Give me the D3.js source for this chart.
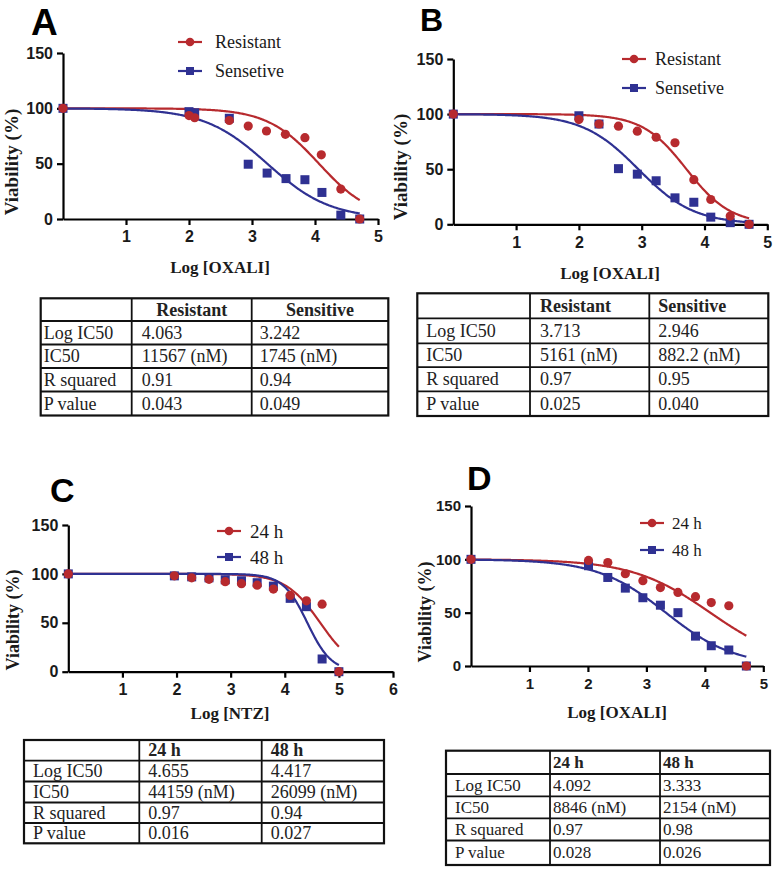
<!DOCTYPE html>
<html>
<head>
<meta charset="utf-8">
<script src="https://cdn.jsdelivr.net/npm/d3@7"></script>
<style>
  html, body { margin: 0; padding: 0; background: #fff; }
  svg { display: block; }
</style>
</head>
<body>
<svg id="fig" width="782" height="879"></svg>
<script>
// ---------------- DATA ----------------
// Panel A (Log [OXALI]) Resistant vs Sensetive
const xA_res = [0, 2.0, 2.09, 2.64, 2.94, 3.23, 3.53, 3.84, 4.10, 4.41, 4.71];
const yA_res = [100, 93.5, 91.5, 89, 84, 79.5, 76.5, 73.5, 58, 27, 0];
const xA_sen = [0, 2.0, 2.09, 2.64, 2.94, 3.24, 3.54, 3.84, 4.11, 4.41, 4.71];
const yA_sen = [100, 97, 96, 91, 49.5, 41.5, 36.5, 35.5, 24, 3.5, 0];

// Panel B (Log [OXALI]) Resistant vs Sensetive
const xB = [0, 2.0, 2.32, 2.63, 2.93, 3.23, 3.53, 3.83, 4.10, 4.41, 4.71];
const yB_res = [100, 95, 91, 89, 84.5, 79, 74, 40.5, 22.5, 7.5, 0];
const yB_sen = [100, 98.5, 91, 50.5, 45.5, 39.5, 24, 20, 6.5, 1.5, 0];

// Panel C (Log [NTZ]) 24 h vs 48 h
const xC = [0, 1.96, 2.28, 2.60, 2.90, 3.20, 3.49, 3.79, 4.10, 4.40, 4.69, 5.0];
const yC_24 = [100, 98, 96, 94.5, 92, 90, 88.5, 84.5, 78, 72.5, 69, 0];
const yC_48 = [100, 98, 97, 96, 94, 93, 91, 87.5, 75, 66.5, 13, 0];

// Panel D (Log [OXALI]) 24 h vs 48 h
const xD = [0, 2.01, 2.34, 2.64, 2.94, 3.24, 3.54, 3.84, 4.11, 4.41, 4.71];
const yD_24 = [100, 99, 97, 86.5, 80, 73.5, 69, 65, 59.5, 56.5, 0];
const yD_48 = [100, 94, 83, 73, 64, 57, 50, 28, 19, 15, 0];

// Fitted curve parameters (logIC50 from tables, Hill slopes)
const logIC50_A = [4.063, 3.242]; const hill_A = [1.06, 0.87];
const logIC50_B = [3.713, 2.946]; const hill_B = [1.24, 0.98];
const logIC50_C = [4.655, 4.417]; const hill_C = [1.35, 1.95];
const logIC50_D = [4.092, 3.333]; const hill_D = [0.65, 0.74];

// Axis ticks
const yTicks = [0, 50, 100, 150];
const xTicks5 = [1, 2, 3, 4, 5];
const xTicks6 = [1, 2, 3, 4, 5, 6];

// Legend labels
const seriesAB = ["Resistant", "Sensetive"];
const seriesCD = ["24 h", "48 h"];

// Table contents
const tableRowLabels = ["Log IC50", "IC50", "R squared", "P value"];
const headerAB = ["", "Resistant", "Sensitive"];
const headerCD = ["", "24 h", "48 h"];
const tableA = [["4.063", "3.242"], ["11567 (nM)", "1745 (nM)"], ["0.91", "0.94"], ["0.043", "0.049"]];
const tableB = [["3.713", "2.946"], ["5161 (nM)", "882.2 (nM)"], ["0.97", "0.95"], ["0.025", "0.040"]];
const tableC = [["4.655", "4.417"], ["44159 (nM)", "26099 (nM)"], ["0.97", "0.94"], ["0.016", "0.027"]];
const tableD = [["4.092", "3.333"], ["8846 (nM)", "2154 (nM)"], ["0.97", "0.98"], ["0.028", "0.026"]];

// ---------------- STYLE ----------------
const RED = "#b72a2e";
const BLUE = "#2f3192";
const SANS = "'Liberation Sans', Arial, sans-serif";
const SERIF = "'Liberation Serif', 'Times New Roman', serif";

const svg = d3.select("#fig");
svg.append("rect").attr("width", 782).attr("height", 879).attr("fill", "#fff");

function panel(cfg) {
  const g = svg.append("g");
  const x = d3.scaleLinear().domain([0, cfg.xMax]).range([cfg.x0, cfg.x1]);
  const y = d3.scaleLinear().domain([0, 150]).range([cfg.y0, cfg.y1]);

  // axes
  const xAxis = d3.axisBottom(x).tickValues(cfg.xTicks).tickSize(6).tickSizeOuter(0).tickPadding(6).tickFormat(d3.format("d"));
  const yAxis = d3.axisLeft(y).tickValues(yTicks).tickSize(6).tickSizeOuter(0).tickPadding(4).tickFormat(d3.format("d"));
  const gx = g.append("g").attr("transform", `translate(0,${cfg.y0})`).call(xAxis);
  const gy = g.append("g").attr("transform", `translate(${cfg.x0},0)`).call(yAxis);
  [gx, gy].forEach(a => {
    a.selectAll("path, line").attr("stroke", "#000").attr("stroke-width", 2.2);
    a.selectAll("text").attr("fill", "#1a1a1a").style("font-family", SANS)
      .style("font-weight", "bold").style("font-size", cfg.tickFont + "px");
  });
  gx.selectAll("text").attr("dy", "0.71em");

  // axis titles
  g.append("text").attr("x", cfg.xLabelX).attr("y", cfg.xLabelY).attr("text-anchor", "middle")
    .style("font-family", SERIF).style("font-weight", "bold").style("font-size", "17px")
    .attr("fill", "#1a1a1a").text(cfg.xLabel);
  g.append("text").attr("transform", `translate(${cfg.yLabelX},${cfg.yLabelY}) rotate(-90)`)
    .attr("text-anchor", "middle").attr("dominant-baseline", "central")
    .style("font-family", SERIF).style("font-weight", "bold").style("font-size", cfg.yLabelFont + "px")
    .attr("fill", "#1a1a1a").text("Viability (%)");

  // fitted curves
  const line = d3.line().x(d => x(d[0])).y(d => y(d[1])).curve(d3.curveLinear);
  const colors = [RED, BLUE];
  cfg.fit.forEach((f, i) => {
    const pts = d3.range(0, 301).map(k => {
      const xv = f.xEnd * k / 300;
      return [xv, 100 / (1 + Math.pow(10, (xv - f.logIC50) * f.hill))];
    });
    g.append("path").datum(pts).attr("d", line).attr("fill", "none")
      .attr("stroke", colors[i]).attr("stroke-width", 2.2);
  });

  // markers: squares (series 2) first, then circles (series 1)
  const sq = cfg.series[1];
  g.selectAll(null).data(sq.x.map((v, i) => [v, sq.y[i]])).enter().append("rect")
    .attr("x", d => x(d[0]) - 4.5).attr("y", d => y(d[1]) - 4.5)
    .attr("width", 9).attr("height", 9).attr("fill", BLUE);
  const ci = cfg.series[0];
  g.selectAll(null).data(ci.x.map((v, i) => [v, ci.y[i]])).enter().append("circle")
    .attr("cx", d => x(d[0])).attr("cy", d => y(d[1])).attr("r", 4.6).attr("fill", RED);

  // legend
  cfg.legendNames.forEach((name, i) => {
    const ly = cfg.legY[i];
    g.append("line").attr("x1", cfg.legX).attr("x2", cfg.legX + 24).attr("y1", ly).attr("y2", ly)
      .attr("stroke", colors[i]).attr("stroke-width", 2.2);
    if (i === 0) {
      g.append("circle").attr("cx", cfg.legX + 12).attr("cy", ly).attr("r", 4.3).attr("fill", RED);
    } else {
      g.append("rect").attr("x", cfg.legX + 8).attr("y", ly - 4).attr("width", 8).attr("height", 8).attr("fill", BLUE);
    }
    g.append("text").attr("x", cfg.legTextX).attr("y", ly).attr("dominant-baseline", "central")
      .style("font-family", SERIF).style("font-size", cfg.legFont + "px").attr("fill", "#1a1a1a").text(name);
  });

  // panel letter
  g.append("text").attr("x", cfg.letterX).attr("y", cfg.letterY)
    .style("font-family", cfg.letterFamily || SANS).style("font-weight", "bold")
    .style("font-size", cfg.letterFont + "px").attr("fill", "#000").text(cfg.letter);
}

function table(cfg) {
  const g = svg.append("g");
  const cols = cfg.cols, rows = cfg.rows;
  for (let i = 1; i < cols.length - 1; i++)
    g.append("line").attr("x1", cols[i]).attr("x2", cols[i]).attr("y1", rows[0]).attr("y2", rows[rows.length - 1])
      .attr("stroke", "#111").attr("stroke-width", 1.8);
  for (let j = 1; j < rows.length - 1; j++)
    g.append("line").attr("x1", cols[0]).attr("x2", cols[cols.length - 1]).attr("y1", rows[j]).attr("y2", rows[j])
      .attr("stroke", "#111").attr("stroke-width", 1.8);
  g.append("rect").attr("x", cols[0]).attr("y", rows[0])
    .attr("width", cols[cols.length - 1] - cols[0]).attr("height", rows[rows.length - 1] - rows[0])
    .attr("fill", "none").attr("stroke", "#111").attr("stroke-width", 2.2);

  const cell = (txt, c, r, bold, anchor, pad) => {
    const cy = (rows[r] + rows[r + 1]) / 2;
    const xPos = anchor === "middle" ? (cols[c] + cols[c + 1]) / 2 : cols[c] + pad;
    g.append("text").attr("x", xPos).attr("y", cy).attr("dominant-baseline", "central")
      .attr("text-anchor", anchor).style("font-family", SERIF)
      .style("font-weight", bold ? "bold" : "normal").style("font-size", cfg.font + "px")
      .attr("fill", "#222").text(txt);
  };
  cfg.header.forEach((h, c) => { if (h) cell(h, c, 0, true, cfg.headerAnchor, cfg.pads[c]); });
  tableRowLabels.forEach((lab, r) => {
    cell(lab, 0, r + 1, false, "start", cfg.pads[0]);
    cfg.data[r].forEach((v, c) => cell(v, c + 1, r + 1, false, "start", cfg.pads[c + 1]));
  });
}

// ---------------- PANELS ----------------
panel({
  letter: "A", letterX: 31, letterY: 35, letterFont: 37,
  x0: 63, x1: 378, xMax: 5, y0: 219, y1: 53, xTicks: xTicks5, tickFont: 16,
  xLabel: "Log [OXALI]", xLabelX: 220, xLabelY: 273,
  yLabelX: 11, yLabelY: 162, yLabelFont: 19,
  series: [{ x: xA_res, y: yA_res }, { x: xA_sen, y: yA_sen }],
  fit: [{ logIC50: logIC50_A[0], hill: hill_A[0], xEnd: 4.71 }, { logIC50: logIC50_A[1], hill: hill_A[1], xEnd: 4.71 }],
  legendNames: seriesAB, legX: 178, legY: [42, 71], legTextX: 215, legFont: 18
});
panel({
  letter: "B", letterX: 420, letterY: 31, letterFont: 32,
  x0: 453.3, x1: 767.3, xMax: 5, y0: 224.3, y1: 59, xTicks: xTicks5, tickFont: 16,
  xLabel: "Log [OXALI]", xLabelX: 610, xLabelY: 279,
  yLabelX: 400, yLabelY: 167, yLabelFont: 19,
  series: [{ x: xB, y: yB_res }, { x: xB, y: yB_sen }],
  fit: [{ logIC50: logIC50_B[0], hill: hill_B[0], xEnd: 4.71 }, { logIC50: logIC50_B[1], hill: hill_B[1], xEnd: 4.71 }],
  legendNames: seriesAB, legX: 622, legY: [59, 88], legTextX: 655, legFont: 18
});
panel({
  letter: "C", letterX: 50, letterY: 502, letterFont: 34,
  x0: 68.3, x1: 393, xMax: 6, y0: 671.7, y1: 525, xTicks: xTicks6, tickFont: 16,
  xLabel: "Log [NTZ]", xLabelX: 230, xLabelY: 719,
  yLabelX: 13, yLabelY: 620, yLabelFont: 18,
  series: [{ x: xC, y: yC_24 }, { x: xC, y: yC_48 }],
  fit: [{ logIC50: logIC50_C[0], hill: hill_C[0], xEnd: 5.0 }, { logIC50: logIC50_C[1], hill: hill_C[1], xEnd: 5.0 }],
  legendNames: seriesCD, legX: 217, legY: [531, 557], legTextX: 250, legFont: 19
});
panel({
  letter: "D", letterX: 467, letterY: 490, letterFont: 34,
  x0: 471, x1: 763.3, xMax: 5, y0: 666, y1: 506, xTicks: xTicks5, tickFont: 15,
  xLabel: "Log [OXALI]", xLabelX: 617, xLabelY: 718,
  yLabelX: 425, yLabelY: 612, yLabelFont: 18,
  series: [{ x: xD, y: yD_24 }, { x: xD, y: yD_48 }],
  fit: [{ logIC50: logIC50_D[0], hill: hill_D[0], xEnd: 4.71 }, { logIC50: logIC50_D[1], hill: hill_D[1], xEnd: 4.71 }],
  legendNames: seriesCD, legX: 640, legY: [523, 550], legTextX: 672, legFont: 17
});

// ---------------- TABLES ----------------
table({ cols: [40.7, 131.7, 251.7, 388.3], rows: [298.3, 321, 344.5, 368, 391.5, 415.5],
  header: headerAB, headerAnchor: "middle", pads: [3, 10, 8], font: 18, data: tableA });
table({ cols: [417.3, 530, 649.3, 768.3], rows: [293.3, 318.3, 343.3, 367.2, 391.3, 416],
  header: headerAB, headerAnchor: "start", pads: [9, 10, 9], font: 18, data: tableB });
table({ cols: [24, 139.3, 261.7, 384], rows: [740, 760.7, 781.5, 802.5, 823, 843.3],
  header: headerCD, headerAnchor: "start", pads: [9, 9, 9], font: 18, data: tableC });
table({ cols: [446, 550, 660, 770], rows: [750.7, 774, 796.3, 818.3, 840.5, 865],
  header: headerCD, headerAnchor: "start", pads: [9, 3, 3], font: 17, data: tableD });
</script>
</body>
</html>
